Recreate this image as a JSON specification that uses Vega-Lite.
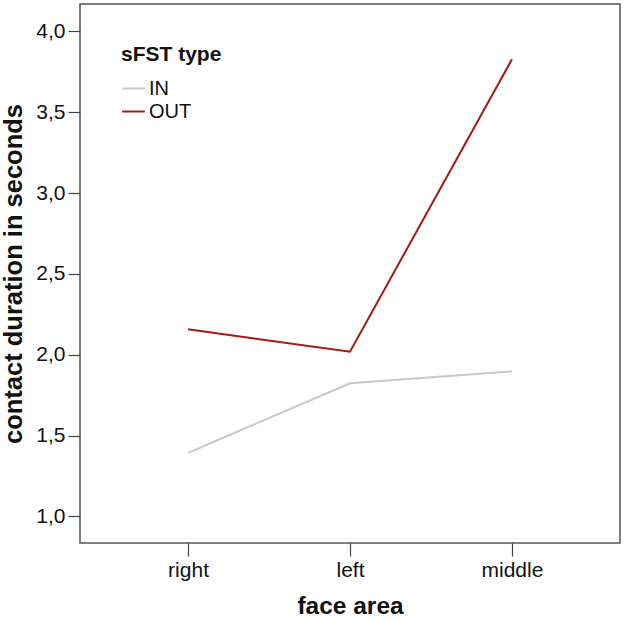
{
  "$schema": "https://vega.github.io/schema/vega-lite/v6.json",
  "width": 540,
  "height": 539,
  "autosize": {"type": "none"},
  "padding": {"left": 80, "top": 4, "right": 5, "bottom": 77},
  "background": "white",
  "config": {
    "font": "Liberation Sans",
    "view": {"stroke": "#555555", "strokeWidth": 1.5},
    "axis": {"grid": false, "domain": false, "tickColor": "#444444", "tickWidth": 1.2, "labelColor": "#111111", "titleColor": "#111111"}
  },
  "data": {
    "values": [
      {"area": "right", "type": "IN", "dur": 1.393},
      {"area": "left", "type": "IN", "dur": 1.823},
      {"area": "middle", "type": "IN", "dur": 1.897},
      {"area": "right", "type": "OUT", "dur": 2.157},
      {"area": "left", "type": "OUT", "dur": 2.019},
      {"area": "middle", "type": "OUT", "dur": 3.828}
    ]
  },
  "mark": {"type": "line", "strokeWidth": 2},
  "encoding": {
    "x": {
      "field": "area", "type": "nominal", "sort": ["right", "left", "middle"],
      "scale": {"type": "point", "padding": 0.667},
      "axis": {"title": "face area", "labelAngle": 0, "labelFontSize": 21, "tickSize": 13, "labelPadding": 3, "titleFontSize": 24.5, "titleFontWeight": "bold", "titlePadding": 14}
    },
    "y": {
      "field": "dur", "type": "quantitative",
      "scale": {"domain": [0.835, 4.17], "nice": false, "zero": false},
      "axis": {"title": "contact duration in seconds", "values": [1, 1.5, 2, 2.5, 3, 3.5, 4], "labelExpr": "replace(format(datum.value, '.1f'), '.', ',')", "labelFontSize": 21, "tickSize": 12, "labelPadding": 3, "titleFontSize": 25.5, "titleFontWeight": "bold", "titlePadding": 9}
    },
    "color": {
      "field": "type", "type": "nominal",
      "scale": {"domain": ["IN", "OUT"], "range": ["#c8c8c8", "#a01a1a"]},
      "legend": {"title": "sFST type", "orient": "none", "legendX": 41, "legendY": 40, "symbolType": "stroke", "symbolSize": 520, "symbolStrokeWidth": 2, "titleFontSize": 21, "titleFontWeight": "bold", "titleColor": "#111111", "labelFontSize": 20, "labelColor": "#111111", "titlePadding": 11, "rowPadding": 0, "labelOffset": 3, "padding": 0}
    }
  }
}
